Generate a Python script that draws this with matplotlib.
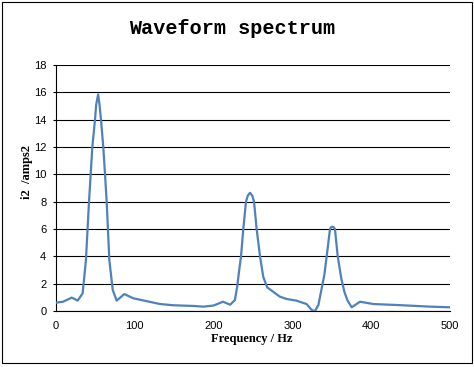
import matplotlib
matplotlib.use('Agg')
import matplotlib.pyplot as plt
from matplotlib.patches import Rectangle

# spectrum values
freq = [0, 9, 20, 27.5, 33.8, 38, 41.9, 44, 46.1, 49.5, 51.0, 53.5, 55.2, 57.1, 60, 62.2, 64.3,
        67.7, 72, 77, 86.7, 98, 115, 132, 149, 174, 187, 200, 212, 221, 227,
        230, 232.5, 234.8, 237.7, 241.1, 243.5, 246.2, 249, 251.3, 254.6, 258.9, 263, 268,
        273.7, 284, 292.7, 305, 318, 324.5, 328.7, 333, 340.5, 343.5, 347.7, 348.8,
        350.6, 352.5, 354, 357.5, 362, 366, 369.7, 375.2, 385.8, 402.7, 432, 474.6, 500]
amps = [0.61, 0.68, 0.98, 0.76, 1.29, 3.73, 8.0, 10.0, 12.0, 14.0, 15.1, 15.85, 15.1, 14.0, 12.0, 10.0, 8.0,
        3.73, 1.54, 0.76, 1.24, 0.93, 0.72, 0.51, 0.42, 0.37, 0.32, 0.40, 0.68, 0.46, 0.80,
        1.8, 3.0, 4.0, 6.0, 8.0, 8.45, 8.65, 8.45, 8.0, 6.0, 4.0, 2.5, 1.73,
        1.49, 1.05, 0.88, 0.76, 0.51, 0.07, 0.0, 0.44, 2.63, 4.0, 6.0, 6.12,
        6.17, 6.12, 6.0, 4.0, 2.4, 1.4, 0.8, 0.27, 0.68, 0.51, 0.44, 0.32, 0.27]

xticks = [0, 100, 200, 300, 400, 500]
yticks = [0, 2, 4, 6, 8, 10, 12, 14, 16, 18]

fig = plt.figure(figsize=(4.74, 3.67), dpi=100)
ax = fig.add_axes([56 / 474, 56 / 367, 394 / 474, 246 / 367])

ax.plot(freq, amps, color='#4F81BD', lw=1.6, zorder=3)

ax.set_xlim(0, 500)
ax.set_ylim(0, 18)
ax.set_xticks(xticks)
ax.set_yticks(yticks)
ax.yaxis.grid(True, color='black', lw=0.8)
ax.set_axisbelow(True)
for s in ['top', 'right']:
    ax.spines[s].set_visible(False)
ax.spines['left'].set_linewidth(0.8)
ax.spines['bottom'].set_linewidth(0.8)
ax.tick_params(axis='x', length=0, pad=7.5, labelsize=8)
ax.tick_params(axis='y', length=2, width=0.8, pad=5, labelsize=8)
for lab in ax.get_xticklabels() + ax.get_yticklabels():
    lab.set_family('Liberation Sans')

ax.set_xlabel('Frequency / Hz', fontfamily='Liberation Serif', fontweight='bold', fontsize=9)
ax.xaxis.set_label_coords(0.497, -0.114)
ax.xaxis.label.set_va('center')
ax.set_ylabel('i2  /amps2', fontfamily='Liberation Serif', fontweight='bold', fontsize=9)
ax.yaxis.set_label_coords(-0.074, 0.565)
ax.yaxis.label.set_va('center')

fig.text(232 / 474, 1 - 28 / 367, 'Waveform spectrum', fontfamily='Liberation Mono',
         fontweight='bold', fontsize=14.5, ha='center', va='center')

# outer border of the chart
fig.patches.append(Rectangle((2 / 474, 4 / 367), 470 / 474, 361 / 367, transform=fig.transFigure,
                             fill=False, edgecolor='black', lw=0.8))

fig.savefig('out.png', dpi=100)
plt.close()
